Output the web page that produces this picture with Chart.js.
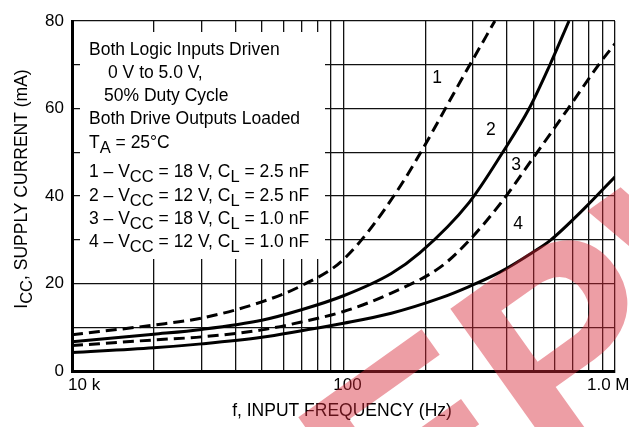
<!DOCTYPE html>
<html>
<head>
<meta charset="utf-8">
<script src="https://cdn.jsdelivr.net/npm/chart.js@4/dist/chart.umd.min.js"></script>
<style>
  html, body { margin: 0; padding: 0; background: #fff; }
  #wrap { width: 629px; height: 427px; position: relative; }
</style>
</head>
<body>
<div id="wrap"><canvas id="chart"></canvas></div>
<script>
const FONT = '"Liberation Sans", Arial, sans-serif';
const TXT = 17.5;

// frequency in kHz, current in mA
const freq1 = [10, 20, 30, 50, 70, 100, 157, 292, 361];
const curve1 = [8.3, 10.5, 12.1, 15.8, 19.5, 25.5, 41, 70, 80];

const freq2 = [10, 20, 30, 50, 70, 100, 150, 191, 290, 386, 484, 576, 677];
const curve2 = [6.7, 8.4, 9.5, 11.6, 14, 17.2, 22.3, 27, 38.5, 50, 60.1, 70, 80];

const freq3 = [10, 20, 30, 50, 70, 100, 150, 228, 290, 382, 484, 667, 880, 1000];
const curve3 = [5.8, 7.1, 7.8, 9.4, 11.2, 13.6, 17.8, 23.8, 29.8, 38.6, 47.5, 59.7, 70.4, 74.8];

const freq4 = [10, 20, 30, 50, 70, 100, 150, 228, 290, 377, 497, 576, 778, 1000];
const curve4 = [4.2, 5.3, 6.2, 7.7, 9.2, 10.9, 13.2, 16.7, 19.3, 22.6, 27.1, 29.8, 37.4, 44.4];

const gridFreqs = [10, 20, 30, 40, 50, 60, 70, 80, 90, 100, 200, 300, 400, 500, 600, 700, 800, 900, 1000];
const xTickLabels = [[10, '10 k'], [100, '100'], [1000, '1.0 M']];

// curve numbers: [label, freq, current]
const curveTags = [['1', 221, 67], ['2', 349, 55], ['3', 432, 47], ['4', 440, 33.6]];

const noteLines = [
  [[['Both Logic Inputs Driven']], 0],
  [[['0 V to 5.0 V,']], 19],
  [[['50% Duty Cycle']], 15],
  [[['Both Drive Outputs Loaded']], 0],
  [[['T'], ['A', 1], [' = 25°C']], 0],
  [[['1 – V'], ['CC', 1], [' = 18 V, C'], ['L', 1], [' = 2.5 nF']], 0],
  [[['2 – V'], ['CC', 1], [' = 12 V, C'], ['L', 1], [' = 2.5 nF']], 0],
  [[['3 – V'], ['CC', 1], [' = 18 V, C'], ['L', 1], [' = 1.0 nF']], 0],
  [[['4 – V'], ['CC', 1], [' = 12 V, C'], ['L', 1], [' = 1.0 nF']], 0],
];
const noteBaselines = [55, 78, 101, 124, 148, 177, 200.5, 224, 247];

const toPoints = (xs, ys) => xs.map((x, i) => ({ x, y: ys[i] }));

function richWidth(ctx, parts) {
  let w = 0;
  parts.forEach(([t, sub]) => {
    ctx.font = (sub ? TXT - 1 : TXT) + 'px ' + FONT;
    w += ctx.measureText(t).width;
  });
  return w;
}

function drawRich(ctx, parts, x, y) {
  parts.forEach(([t, sub]) => {
    ctx.font = (sub ? TXT - 1 : TXT) + 'px ' + FONT;
    ctx.fillText(t, x, sub ? y + 5 : y);
    x += ctx.measureText(t).width;
  });
}

const annotations = {
  id: 'annotations',
  beforeDatasetsDraw(chart) {
    const { ctx } = chart;
    // white note panel covering the grid
    ctx.save();
    ctx.fillStyle = '#fff';
    ctx.fillRect(80, 32, 245, 227);
    ctx.fillStyle = '#000';
    ctx.textAlign = 'left';
    ctx.textBaseline = 'alphabetic';
    noteLines.forEach(([parts, indent], i) => drawRich(ctx, parts, 89 + indent, noteBaselines[i]));
    ctx.restore();
  },
  afterDatasetsDraw(chart) {
    const { ctx, scales: { x, y } } = chart;
    ctx.save();
    ctx.fillStyle = '#000';
    ctx.font = TXT + 'px ' + FONT;
    ctx.textAlign = 'center';
    ctx.textBaseline = 'middle';
    curveTags.forEach(([t, f, v]) => ctx.fillText(t, x.getPixelForValue(f), y.getPixelForValue(v)));

    // x tick labels
    ctx.font = '17px ' + FONT;
    ctx.textBaseline = 'alphabetic';
    xTickLabels.forEach(([f, t]) => {
      const px = x.getPixelForValue(f);
      if (f === 10) { ctx.textAlign = 'left'; ctx.fillText(t, px - 4, 390); }
      else if (f === 1000) { ctx.textAlign = 'left'; ctx.fillText(t, px - 28, 390); }
      else { ctx.textAlign = 'center'; ctx.fillText(t, px + 4, 390); }
    });

    // x title
    ctx.font = TXT + 'px ' + FONT;
    ctx.textAlign = 'center';
    ctx.fillText('f, INPUT FREQUENCY (Hz)', 342, 416);

    // y title
    const yParts = [['I'], ['CC', 1], [', SUPPLY CURRENT (mA)']];
    ctx.translate(27, 189);
    ctx.rotate(-Math.PI / 2);
    ctx.textAlign = 'left';
    drawRich(ctx, yParts, -richWidth(ctx, yParts) / 2, 0);
    ctx.restore();
  },
  afterDraw(chart) {
    // red watermark in the lower right
    const { ctx } = chart;
    ctx.save();
    ctx.fillStyle = 'rgba(215, 40, 55, 0.45)';
    ctx.translate(395, 585);
    ctx.rotate(-0.62);
    ctx.font = 'bold 280px ' + FONT;
    ctx.fillText('EPW', 0, 0);
    ctx.restore();
  }
};

const lineStyle = (data, dashed) => ({
  data,
  borderColor: '#000',
  borderWidth: 3,
  borderDash: dashed ? [11, 6] : [],
  pointRadius: 0,
  cubicInterpolationMode: 'monotone',
  fill: false,
});

new Chart(document.getElementById('chart'), {
  type: 'line',
  data: {
    datasets: [
      lineStyle(toPoints(freq1, curve1), true),
      lineStyle(toPoints(freq2, curve2), false),
      lineStyle(toPoints(freq3, curve3), true),
      lineStyle(toPoints(freq4, curve4), false),
    ],
  },
  options: {
    responsive: true,
    maintainAspectRatio: false,
    animation: false,
    layout: { padding: { left: 0, top: 21, right: 14, bottom: 0 } },
    plugins: { legend: { display: false }, tooltip: { enabled: false } },
    scales: {
      x: {
        type: 'logarithmic',
        min: 10,
        max: 1000,
        afterBuildTicks: (scale) => { scale.ticks = gridFreqs.map((v) => ({ value: v })); },
        afterFit: (scale) => { scale.height = 56; },
        ticks: { display: false },
        grid: { color: '#111', lineWidth: 1.3, drawTicks: false },
        border: { color: '#000', width: 3 },
      },
      y: {
        min: 0,
        max: 80,
        afterFit: (scale) => { scale.width = 72; },
        ticks: {
          stepSize: 10,
          padding: 8,
          color: '#000',
          font: { family: FONT, size: 17 },
          callback: (v) => (v % 20 === 0 ? String(v) : ''),
        },
        grid: { color: '#111', lineWidth: 1.3, drawTicks: false },
        border: { color: '#000', width: 3 },
      },
    },
  },
  plugins: [annotations],
});
</script>
</body>
</html>
